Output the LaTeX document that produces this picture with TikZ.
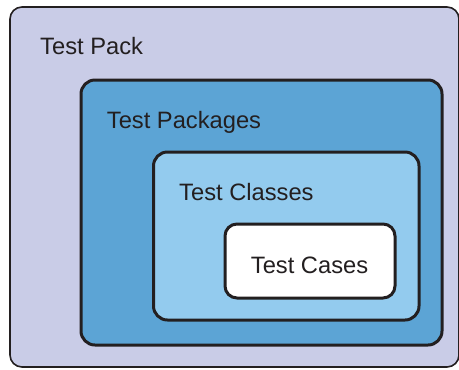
\documentclass[tikz,border=0pt]{standalone}
\usepackage{fontspec}
\setmainfont{Liberation Sans}
\definecolor{packfill}{HTML}{C9CCE7}
\definecolor{pkgfill}{HTML}{5CA4D5}
\definecolor{clsfill}{HTML}{93CBEE}
\definecolor{ink}{HTML}{231F20}
\begin{document}
\begin{tikzpicture}[x=1bp,y=-1bp,
  box/.style={draw=ink, line width=3bp, rounded corners=14bp, anchor=north west, inner sep=0pt, outer sep=0pt},
  lbl/.style={anchor=base west, inner sep=0pt, text=ink, font=\fontsize{23.8}{27}\selectfont}]
\useasboundingbox (0,0) rectangle (459,369);
\node[box, line width=1.6bp, rounded corners=12bp, fill=packfill, minimum width=449bp, minimum height=360bp] (pack) at (10,7) {};
\node[box, fill=pkgfill, minimum width=361bp, minimum height=265bp] (pkgs) at (81,80) {};
\node[box, fill=clsfill, minimum width=265.5bp, minimum height=168bp] (cls) at (153.5,152) {};
\node[box, fill=white, rounded corners=12bp, minimum width=170bp, minimum height=74bp] (cases) at (225,224) {};
\node[lbl] (packlbl) at (40,54.5) {Test Pack};
\node[lbl] (pkgslbl) at (106.7,128.3) {Test Packages};
\node[lbl] (clslbl) at (179,200.7) {Test Classes};
\node[lbl] (caseslbl) at (250.7,273.3) {Test Cases};
\end{tikzpicture}
\end{document}
